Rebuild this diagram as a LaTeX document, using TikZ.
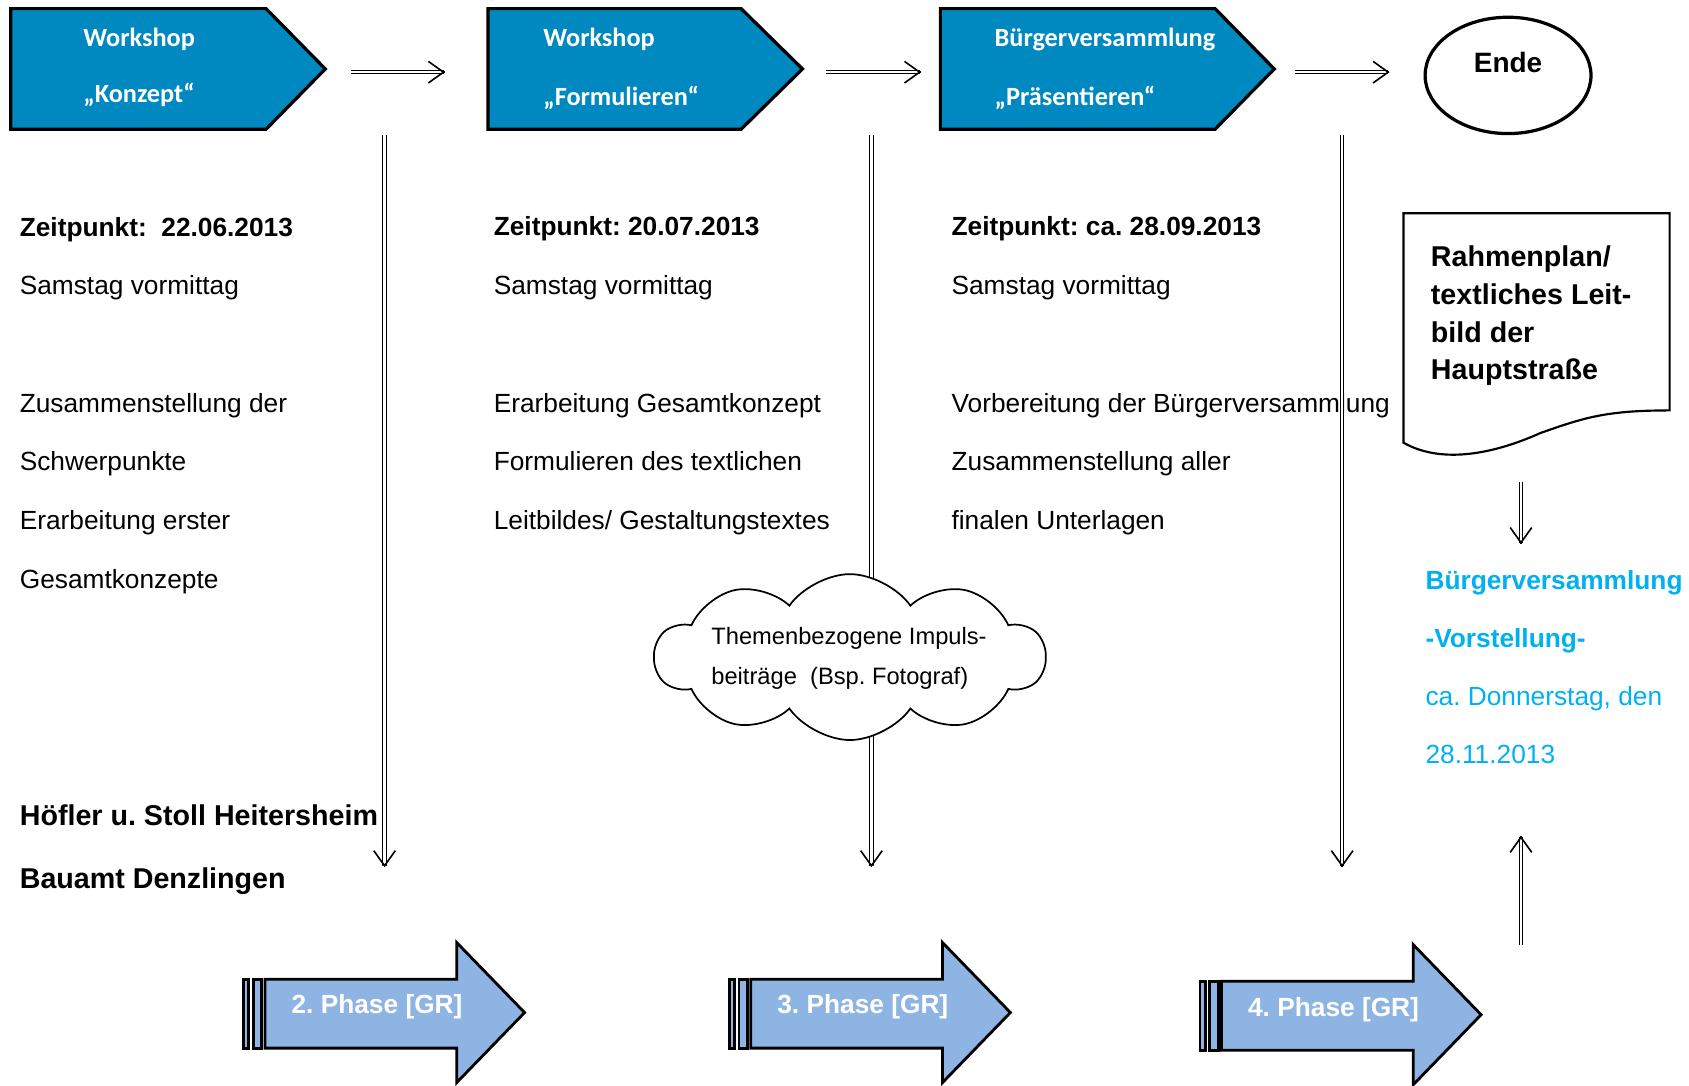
\documentclass[tikz,border=0pt]{standalone}
\usepackage{fontspec}
\setmainfont{Liberation Sans}
\newfontfamily\chevfont{Carlito}
\usetikzlibrary{arrows.meta,shapes.geometric,shapes.symbols,calc}
\definecolor{chevblue}{RGB}{0,137,192}
\definecolor{phaseblue}{RGB}{142,180,227}
\definecolor{infoblue}{RGB}{0,176,240}
\frenchspacing
\tikzset{
  chev/.style={draw=black, line width=1.5pt, fill=chevblue},
  chevtxt/.style={anchor=base west, inner sep=0pt, text=white,
    font=\chevfont\bfseries\fontsize{12.2}{14}\selectfont},
  txt/.style={anchor=north west, inner sep=0pt, align=left,
    font=\fontsize{12.2}{27.25}\selectfont},
  shaft/.style={double, double distance=1.2pt, line width=0.45pt, shorten >=0.6pt},
  tip/.style={-{Straight Barb[length=7pt,width=10pt]}, line width=0.75pt},
  phase/.style={draw=black, line width=1.3pt, fill=phaseblue},
}
\begin{document}
\begin{tikzpicture}[x=0.5pt, y=-0.5pt]
  \useasboundingbox (0,0) rectangle (1568,1008);

  % workshops
  \foreach \l/\r/\t in {10/247/302, 453/688/745, 873/1128/1183}
    \draw[chev] (\l,8) -- (\r,8) -- (\t,64) -- (\r,120) -- (\l,120) -- cycle;
  \node[chevtxt] (w1a) at (77,43) {Workshop};
  \node[chevtxt] (w1b) at (77,95) {„Konzept“};
  \node[chevtxt] (w2a) at (504,43) {Workshop};
  \node[chevtxt] (w2b) at (504,98) {„Formulieren“};
  \node[chevtxt] (w3a) at (923,43) {Bürgerversammlung};
  \node[chevtxt] (w3b) at (923,98) {„Präsentieren“};

  \node[ellipse, draw, line width=1.5pt, minimum width=77pt, minimum height=54pt] (ende) at (1400,70) {};
  \node[inner sep=0pt, font=\bfseries\fontsize{13}{15}\selectfont] (endetxt) at (1400,58) {Ende};

  \foreach \a/\b [count=\i] in {326/413, 767/855, 1202/1290}{
    \coordinate (hs\i) at (\a,67);
    \coordinate (he\i) at (\b,67);
    \draw[shaft] (hs\i) -- (he\i);
    \draw[tip] ($(he\i)+(-0.2,0)$) -- (he\i);
  }

  % dates and tasks
  \node[txt] (col1) at (18,201) {\textbf{Zeitpunkt:\ \ 22.06.2013}\\Samstag vormittag\\[27.25pt]
    Zusammenstellung der\\Schwerpunkte\\Erarbeitung erster\\Gesamtkonzepte};
  \node[txt] (col2) at (458,201) {\textbf{Zeitpunkt: 20.07.2013}\\Samstag vormittag\\[27.25pt]
    Erarbeitung Gesamtkonzept\\Formulieren des textlichen\\Leitbildes/ Gestaltungstextes};
  \node[txt] (col3) at (883,201) {\textbf{Zeitpunkt: ca. 28.09.2013}\\Samstag vormittag\\[27.25pt]
    Vorbereitung der Bürgerversammlung\\Zusammenstellung aller\\finalen Unterlagen};
  \node[txt, font=\bfseries\fontsize{13.3}{29}\selectfont] (team) at (18,747)
    {Höfler u. Stoll Heitersheim\\Bauamt Denzlingen};

  \foreach \x [count=\i] in {357, 809, 1246}{
    \coordinate (vs\i) at (\x,125);
    \coordinate (ve\i) at (\x,805);
    \draw[shaft] (vs\i) -- (ve\i);
    \draw[tip] ($(ve\i)+(0,-0.2)$) -- (ve\i);
  }

  \node[cloud, draw, fill=white, line width=0.8pt, cloud puffs=10, cloud puff arc=110,
    cloud ignores aspect, inner sep=0pt, minimum width=181pt, minimum height=77pt] (impuls) at (789,610) {};
  \node[txt, font=\fontsize{11}{18.5}\selectfont] (impulstxt) at (660,582)
    {Themenbezogene Impuls-\\beiträge\ \ (Bsp. Fotograf)};

  % result
  \draw[line width=1pt, fill=white] (1303,198) -- (1550,198) -- (1550,381)
    .. controls (1490,381) and (1470,388) .. (1430,402)
    .. controls (1390,420) and (1340,432) .. (1303,411) -- cycle;
  \node[txt, font=\bfseries\fontsize{13.3}{17.5}\selectfont] (rahmen) at (1328,228)
    {Rahmenplan/\\textliches Leit-\\bild der\\Hauptstraße};
  \node[txt, text=infoblue, font=\fontsize{12.2}{27}\selectfont] (bv) at (1323,529)
    {\textbf{Bürgerversammlung}\\\textbf{-Vorstellung-}\\ca. Donnerstag, den\\28.11.2013};

  \coordinate (d1) at (1412,447);
  \coordinate (d2) at (1412,505);
  \draw[shaft] (d1) -- (d2);
  \draw[tip] ($(d2)+(0,-0.2)$) -- (d2);
  \coordinate (u1) at (1412,877);
  \coordinate (u2) at (1412,776);
  \draw[shaft] (u1) -- (u2);
  \draw[tip] ($(u2)+(0,0.2)$) -- (u2);

  % phases
  \foreach \dx/\dy/\n in {0/0/2, 451/0/3, 888/2/4}{
    \begin{scope}[shift={(\dx,\dy)}]
      \draw[phase] (226,909) rectangle (231,973);
      \draw[phase] (235,909) rectangle (243,973);
      \draw[phase] (246,909) -- (424,909) -- (424,875) -- (487,940) -- (424,1005)
        -- (424,973) -- (246,973) -- cycle;
      \node[text=white, font=\bfseries\fontsize{12.2}{14}\selectfont] (ph\n) at (350,935) {\n. Phase [GR]};
    \end{scope}
  }
\end{tikzpicture}
\end{document}
